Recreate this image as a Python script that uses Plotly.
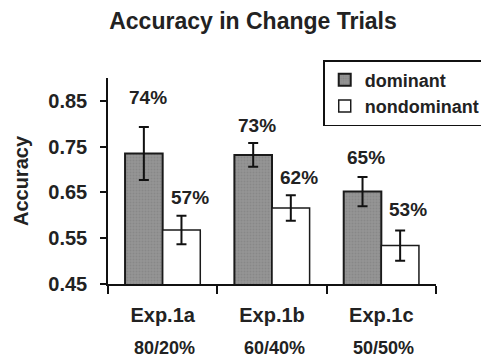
import plotly.graph_objects as go

categories = ["Exp.1a", "Exp.1b", "Exp.1c"]
ratios = ["80/20%", "60/40%", "50/50%"]
dominant = [0.735, 0.732, 0.652]
dominant_err = [0.058, 0.026, 0.032]
nondominant = [0.568, 0.616, 0.534]
nondominant_err = [0.031, 0.028, 0.033]
dominant_labels = ["74%", "73%", "65%"]
nondominant_labels = ["57%", "62%", "53%"]
y_ticks = [0.45, 0.55, 0.65, 0.75, 0.85]

FONT = "Liberation Sans, Arial, sans-serif"
TXT = "#222"

fig = go.Figure()
fig.add_trace(go.Bar(
    name="dominant", x=categories, y=dominant,
    error_y=dict(type="data", array=dominant_err, color="#111", thickness=2, width=5),
    marker=dict(color="#8c8c8c", line=dict(color="#1a1a1a", width=2),
                pattern=dict(shape=".", fgcolor="#7c7c7c", bgcolor="#959595", size=3, solidity=0.4)),
))
fig.add_trace(go.Bar(
    name="nondominant", x=categories, y=nondominant,
    error_y=dict(type="data", array=nondominant_err, color="#111", thickness=2, width=5),
    marker=dict(color="white", line=dict(color="#1a1a1a", width=1.5)),
))

annotations = []
lift_dom = [29, 18, 19]
lift_non = [18, 18, 21]
for i, c in enumerate(categories):
    annotations.append(dict(x=c, y=dominant[i] + dominant_err[i], xref="x", yref="y",
                            text=dominant_labels[i], showarrow=False, xshift=-15,
                            yshift=lift_dom[i], yanchor="middle",
                            font=dict(family=FONT, size=19, color=TXT, weight="bold")))
    annotations.append(dict(x=c, y=nondominant[i] + nondominant_err[i], xref="x", yref="y",
                            text=nondominant_labels[i], showarrow=False, xshift=27,
                            yshift=lift_non[i], yanchor="middle",
                            font=dict(family=FONT, size=19, color=TXT, weight="bold")))
    annotations.append(dict(x=c, y=0, xref="x", yref="paper", text=ratios[i],
                            showarrow=False, yshift=-64, yanchor="middle", xshift=2,
                            font=dict(family=FONT, size=18, color=TXT, weight="bold")))

# The page body adds an 8px offset, so figure coordinates are shifted by -8.
fig.update_layout(
    width=489, height=358,
    margin=dict(l=93, r=47, t=70, b=82),
    paper_bgcolor="white", plot_bgcolor="white",
    barmode="group", bargap=0.312, bargroupgap=0,
    title=dict(text="Accuracy in Change Trials", x=245 / 489, xanchor="center",
               y=1 - 13 / 358, yanchor="middle",
               font=dict(family=FONT, size=23, color=TXT, weight="bold")),
    font=dict(family=FONT, color=TXT),
    showlegend=True,
    legend=dict(x=(330 - 101) / 349, y=(284 - 60) / 206, xanchor="left", yanchor="top",
                bordercolor="#111", borderwidth=1.5, bgcolor="white",
                font=dict(family=FONT, size=18, color=TXT, weight="bold"),
                tracegroupgap=0, itemwidth=30),
    annotations=annotations,
    xaxis=dict(type="category", showline=True, linecolor="#111", linewidth=1.5,
               ticks="outside", tickson="boundaries", ticklen=8, tickwidth=1.5, tickcolor="#111",
               tickfont=dict(family=FONT, size=20, color=TXT, weight="bold"),
               ticklabelstandoff=12, showgrid=False, zeroline=False),
    yaxis=dict(range=[0.45, 0.9], tickvals=y_ticks, ticktext=[f"{v:.2f}" for v in y_ticks],
               showline=True, linecolor="#111", linewidth=1.5,
               ticks="outside", ticklen=6, tickwidth=1.5, tickcolor="#111",
               tickfont=dict(family=FONT, size=20, color=TXT, weight="bold"),
               ticklabelstandoff=9, showgrid=False, zeroline=False,
               title=dict(text="Accuracy", standoff=14,
                          font=dict(family=FONT, size=20, color=TXT, weight="bold"))),
)

fig.write_html("out.html")
